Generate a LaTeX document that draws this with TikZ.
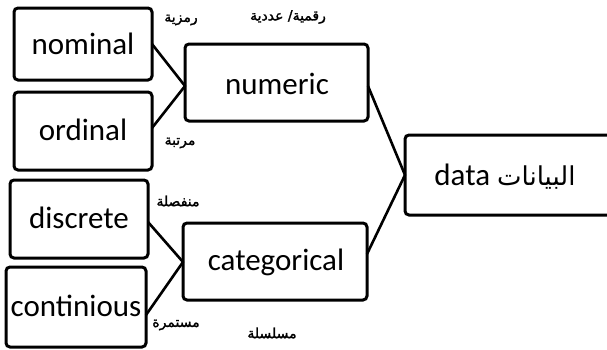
\documentclass[tikz,border=0pt]{standalone}
\usepackage{fontspec}
\setmainfont{Carlito}
\newfontfamily\arabicfont[Script=Arabic,FakeBold=1.6]{DejaVu Sans}
\newfontfamily\arabicplain[Script=Arabic]{DejaVu Sans}
\TeXXeTstate=1
\begin{document}
\begin{tikzpicture}[x=1pt,y=-1pt,
  box/.style={draw=black, line width=3pt, rounded corners=4pt, fill=white},
  boxtext/.style={font=\fontsize{31}{33}\selectfont},
  link/.style={line width=2.6pt, line join=round},
  ar/.style={font=\arabicfont\fontsize{14}{15}\selectfont, inner sep=0pt}]
\useasboundingbox (0,0) rectangle (607,349);

% leaf boxes
\draw[box] (14,8) rectangle (152,80);
\node[boxtext] (nominal) at (83,44) {nominal};
\coordinate (nominalE) at (152,44);
\draw[box] (14,92) rectangle (152,170);
\node[boxtext] (ordinal) at (83,130) {ordinal};
\coordinate (ordinalE) at (152,128);
\draw[box] (10,180) rectangle (148,258);
\node[boxtext] (discrete) at (79,218) {discrete};
\coordinate (discreteE) at (148,222);
\draw[box] (6,267) rectangle (146,347);
\node[boxtext] (continious) at (76,306) {continious};
\coordinate (continiousE) at (146,315);

% middle boxes
\draw[box] (185,44) rectangle (368,121);
\node[boxtext] (numeric) at (277,84) {numeric};
\coordinate (numericW) at (185,86);
\coordinate (numericE) at (368,86);
\draw[box] (183,223) rectangle (367,300);
\node[boxtext] (categorical) at (276,262) {categorical};
\coordinate (categoricalW) at (183,262);
\coordinate (categoricalE) at (367,254);

% root box
\draw[box] (405,135) rectangle (616,215);
\node[boxtext] (data) at (505,177) {data {\arabicplain\fontsize{26}{28}\selectfont\beginR البيانات\endR}};
\coordinate (dataW) at (405,175);

% connectors
\draw[link] (nominalE) -- (numericW) -- (ordinalE);
\draw[link] (discreteE) -- (categoricalW) -- (continiousE);
\draw[link] (numericE) -- (dataW) -- (categoricalE);

% Arabic labels
\node[ar] (lnominal) at (181,20) {\beginR رمزية\endR};
\node[ar] (lnumeric) at (288,17) {\beginR رقمية/ عددية\endR};
\node[ar] (lordinal) at (180,143) {\beginR مرتبة\endR};
\node[ar] (ldiscrete) at (178,201) {\beginR منفصلة\endR};
\node[ar] (lcontinious) at (176,325) {\beginR مستمرة\endR};
\node[ar] (lcategorical) at (272,333) {\beginR مسلسلة\endR};
\end{tikzpicture}
\end{document}
